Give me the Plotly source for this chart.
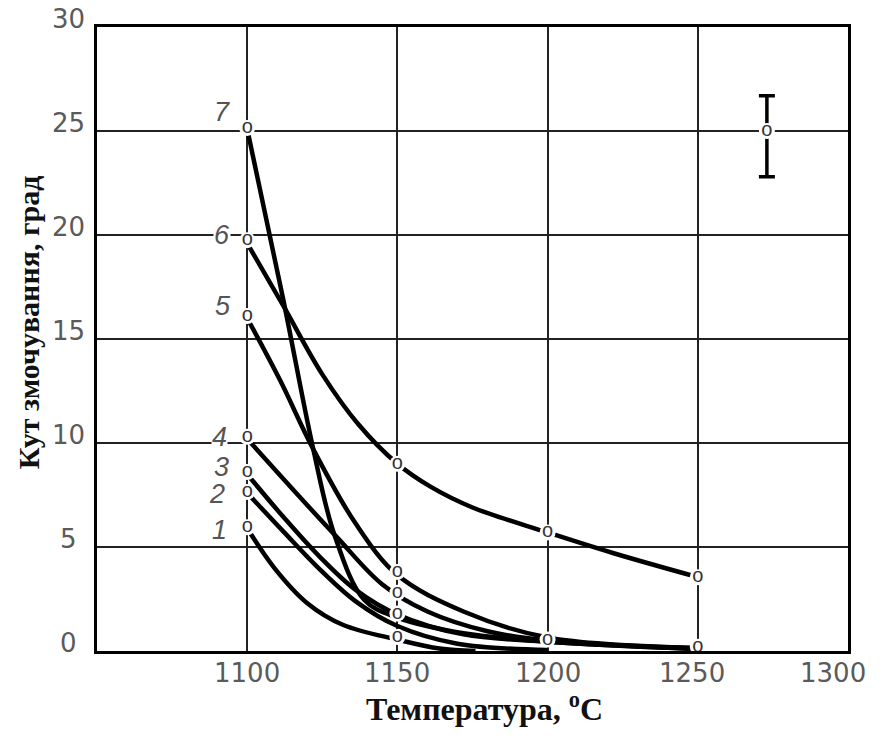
import plotly.graph_objects as go

# ---- data (temperature, °C ; wetting angle, deg) ----
c1_t = [1100, 1109, 1120, 1132, 1150, 1164, 1176]
c1_v = [5.9, 4.0, 2.3, 1.25, 0.55, 0.12, 0.0]

c2_t = [1100, 1112, 1124, 1136, 1150, 1170, 1200]
c2_v = [7.6, 5.75, 3.95, 2.4, 1.2, 0.35, 0.05]

c3_t = [1100, 1112, 1124, 1136, 1150, 1172, 1200, 1250]
c3_v = [8.5, 6.45, 4.55, 2.95, 1.75, 0.8, 0.45, 0.1]

c4_t = [1100, 1115, 1130, 1145, 1160, 1180, 1200, 1250]
c4_v = [10.2, 7.8, 5.45, 3.2, 1.9, 0.95, 0.5, 0.12]

c5_t = [1100, 1111, 1122, 1136, 1150, 1172, 1200, 1250]
c5_v = [16.0, 13.0, 9.7, 6.15, 3.65, 1.9, 0.65, 0.15]

c6_t = [1100, 1112, 1125, 1137, 1150, 1161, 1175, 1200, 1222, 1250]
c6_v = [19.6, 16.6, 13.3, 10.9, 9.0, 7.9, 6.9, 5.7, 4.7, 3.55]

c7_t = [1100, 1112, 1122, 1129, 1139, 1150, 1172, 1200, 1250]
c7_v = [25.1, 16.9, 9.7, 5.6, 2.45, 1.6, 0.85, 0.45, 0.1]

curves = [("1", c1_t, c1_v), ("2", c2_t, c2_v), ("3", c3_t, c3_v), ("4", c4_t, c4_v),
          ("5", c5_t, c5_v), ("6", c6_t, c6_v), ("7", c7_t, c7_v)]

# experimental points ("o" marks)
marker_t = [1100, 1100, 1100, 1100, 1100, 1100, 1100,
            1150, 1150, 1150, 1150, 1150, 1200, 1200, 1250, 1250]
marker_v = [25.15, 19.75, 16.1, 10.3, 8.6, 7.65, 5.95,
            9.0, 3.8, 2.8, 1.8, 0.67, 5.7, 0.55, 3.55, 0.2]

# curve number labels at the 1100 °C points
label_text = ["7", "6", "5", "4", "3", "2", "1"]
label_v = [25.15, 19.75, 16.1, 10.3, 8.6, 7.65, 5.95]
label_dx = [-20, -20, -19, -23, -21, -25, -23]
label_dy = [16, 5, 10, 0, 5, -2, -3]

# error indicator (scatter of a single measurement)
err_t = [1273]
err_v = [25]
err_plus = [1.7]
err_minus = [2.2]

x_ticks = [1100, 1150, 1200, 1250, 1300]
x_tick_text = ["1100", "1150", "1200", "1250", "1300"]
x_tick_dx = [0, 0, 0, -6, -15]
y_ticks = [0, 5, 10, 15, 20, 25, 30]
y_tick_text = ["0", "5", "10", "15", "20", "25", "30"]

tick_font = dict(family="DejaVu Sans, Liberation Sans, Arial", size=26, color="#5a5a5a")

fig = go.Figure()

for name, t, v in curves:
    fig.add_trace(go.Scatter(x=t, y=v, mode="lines", name=name,
                             line=dict(color="black", width=4.5, shape="spline", smoothing=1.0),
                             showlegend=False, hoverinfo="skip", cliponaxis=True))

# error bar
fig.add_trace(go.Scatter(x=err_t, y=err_v, mode="markers",
                         marker=dict(color="white", size=1),
                         error_y=dict(type="data", array=err_plus, arrayminus=err_minus,
                                      symmetric=False, visible=True,
                                      color="black", thickness=3.5, width=8),
                         showlegend=False, hoverinfo="skip"))

# white gaps + "o" marks
fig.add_trace(go.Scatter(x=marker_t + err_t, y=marker_v + err_v, mode="markers+text",
                         marker=dict(color="white", size=16, line=dict(width=0)),
                         text=["o"] * (len(marker_t) + 1), textposition="middle center",
                         textfont=dict(family="Liberation Sans, Arial", size=20, color="#333"),
                         showlegend=False, hoverinfo="skip", cliponaxis=False))

for txt, v, dx, dy in zip(label_text, label_v, label_dx, label_dy):
    fig.add_annotation(x=1100, y=v, xref="x", yref="y", text=f"<i>{txt}</i>",
                       showarrow=False, xshift=dx - 5, yshift=dy, xanchor="center",
                       font=dict(family="Liberation Sans, Arial", size=27, color="#555"),
                       bgcolor="white", borderpad=0)

# tick labels (as text placed at the axis values)
for t, txt, dx in zip(x_ticks, x_tick_text, x_tick_dx):
    fig.add_annotation(x=t, y=0, xref="x", yref="paper", text=txt, showarrow=False,
                       xanchor="center", yanchor="middle", xshift=dx, yshift=-22,
                       font=tick_font)
for v, txt in zip(y_ticks, y_tick_text):
    fig.add_annotation(x=-0.0373, y=v, xref="paper", yref="y", text=txt, showarrow=False,
                       xanchor="center", yanchor="middle", yshift=8,
                       font=tick_font)

# axis titles
fig.add_annotation(x=0.5166, y=-0.0897, xref="paper", yref="paper",
                   text="<b>Температура, <sup>o</sup>C</b>", showarrow=False,
                   xanchor="center", yanchor="middle",
                   font=dict(family="Liberation Serif, Times New Roman", size=32, color="#111"))
fig.add_annotation(x=-0.0919, y=0.527, xref="paper", yref="paper",
                   text="<b>Кут змочування, град</b>", showarrow=False, textangle=-90,
                   xanchor="center", yanchor="middle",
                   font=dict(family="Liberation Serif, Times New Roman", size=30, color="#111"))

fig.update_xaxes(range=[1050, 1300], tickvals=x_ticks, showticklabels=False,
                 showgrid=True, gridcolor="#222", gridwidth=1.5,
                 showline=True, linecolor="black", linewidth=2.5, mirror=True,
                 ticks="", zeroline=False, automargin=False)
fig.update_yaxes(range=[0, 30], tickvals=y_ticks, showticklabels=False,
                 showgrid=True, gridcolor="#222", gridwidth=1.5,
                 showline=True, linecolor="black", linewidth=2.5, mirror=True,
                 ticks="", zeroline=False, automargin=False)
# page body has an 8 px margin, so the figure is 8 px smaller and offset
fig.update_layout(width=877, height=735, margin=dict(l=89, r=37, t=19, b=92),
                  plot_bgcolor="white", paper_bgcolor="white")

fig.write_html("out.html")
